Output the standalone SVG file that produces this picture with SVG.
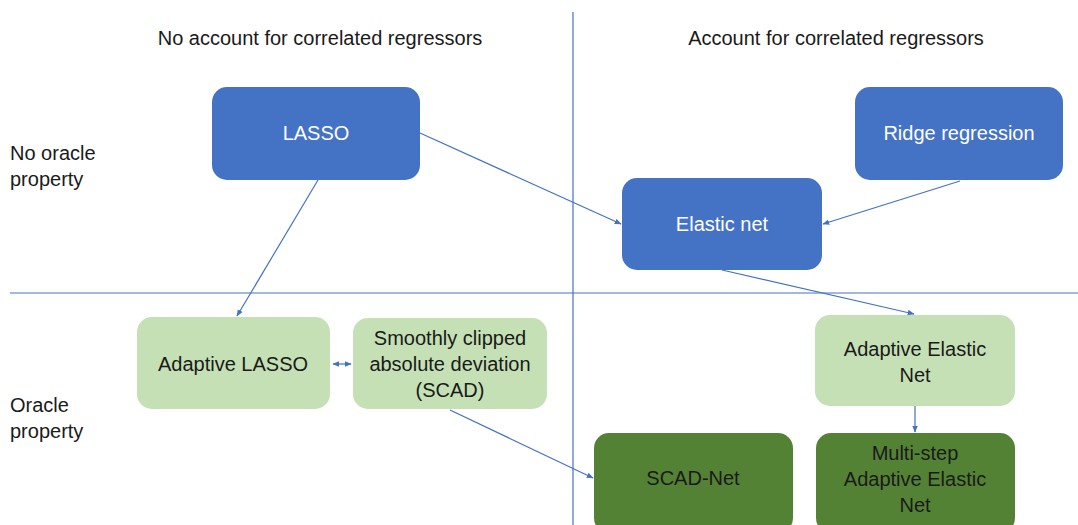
<svg xmlns="http://www.w3.org/2000/svg" width="1078" height="525" viewBox="0 0 1078 525">
<style>
text{font-family:"Liberation Sans",Arial,sans-serif;font-size:20px;text-anchor:middle}
.lbl{text-anchor:start}
.blue{fill:#4472C4}
.lg{fill:#C5E0B4}
.dg{fill:#548235}
.w{fill:#ffffff}
.d{fill:#1a1a1a}
.c{stroke:#4472C4;stroke-width:1.2;fill:none;marker-end:url(#ah)}
.ax{stroke:#4472C4;stroke-width:1.2}
</style>
<defs>
<marker id="ah" viewBox="0 0 10 10" refX="9" refY="5" markerWidth="7" markerHeight="7" orient="auto-start-reverse" markerUnits="userSpaceOnUse"><path d="M0,1 L10,5 L0,9 z" fill="#4472C4"/></marker>
</defs>
<rect width="1078" height="525" fill="#ffffff"/>
<g id="axes">
<line class="ax" x1="573" y1="12" x2="573" y2="525"/>
<line class="ax" x1="10" y1="293" x2="1078" y2="293"/>
</g>
<g id="labels">
<text class="d" x="320" y="45">No account for correlated regressors</text>
<text class="d" x="836" y="45">Account for correlated regressors</text>
<text class="lbl d" x="10" y="160">No oracle</text>
<text class="lbl d" x="10" y="186">property</text>
<text class="lbl d" x="10" y="412">Oracle</text>
<text class="lbl d" x="10" y="438">property</text>
</g>
<g id="connectors">
<line class="c" x1="420" y1="133" x2="621" y2="224"/>
<line class="c" x1="960" y1="181" x2="823" y2="224"/>
<line class="c" x1="318" y1="180" x2="237" y2="316"/>
<line class="c" x1="722" y1="270" x2="914" y2="314"/>
<line class="c" x1="915" y1="406" x2="915" y2="432"/>
<line class="c" x1="450" y1="410" x2="593" y2="478"/>
<line class="c" style="marker-start:url(#ah)" x1="333" y1="364" x2="351" y2="364"/>
</g>
<g id="lasso"><rect class="blue" x="212" y="87" width="208" height="93" rx="15"/><text class="w" x="316" y="140">LASSO</text></g>
<g id="ridge"><rect class="blue" x="855" y="87" width="208" height="93" rx="15"/><text class="w" x="959" y="140">Ridge regression</text></g>
<g id="elastic"><rect class="blue" x="622" y="178" width="200" height="92" rx="15"/><text class="w" x="722" y="231">Elastic net</text></g>
<g id="alasso"><rect class="lg" x="137" y="317" width="193" height="92" rx="15"/><text class="d" x="233" y="371">Adaptive LASSO</text></g>
<g id="scad"><rect class="lg" x="353" y="318" width="194" height="91" rx="15"/><text class="d" x="450" y="345">Smoothly clipped</text><text class="d" x="450" y="371">absolute deviation</text><text class="d" x="450" y="397">(SCAD)</text></g>
<g id="aenet"><rect class="lg" x="815" y="315" width="200" height="91" rx="15"/><text class="d" x="915" y="356">Adaptive Elastic</text><text class="d" x="915" y="382">Net</text></g>
<g id="scadnet"><rect class="dg" x="594" y="433" width="199" height="100" rx="15"/><text class="d" x="693" y="485">SCAD-Net</text></g>
<g id="msaenet"><rect class="dg" x="816" y="433" width="199" height="100" rx="15"/><text class="d" x="915" y="460">Multi-step</text><text class="d" x="915" y="486">Adaptive Elastic</text><text class="d" x="915" y="512">Net</text></g>
</svg>
